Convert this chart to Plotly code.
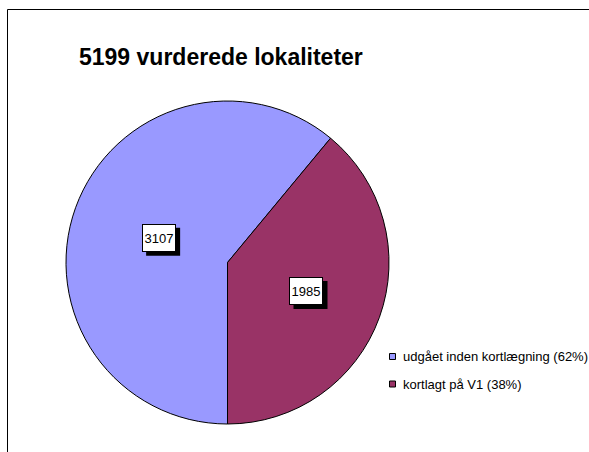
import math
import plotly.graph_objects as go

# ---- data ----
title_text = "5199 vurderede lokaliteter"
categories = ["udgået inden kortlægning (62%)", "kortlagt på V1 (38%)"]
values = [3107, 1985]
colors = ["#9999FF", "#993366"]

W, H = 589, 452
FONT = "Liberation Sans, Arial, sans-serif"

# pie geometry (pixels)
cx, cy, r = 227.5, 262.5, 161.5

fig = go.Figure()
fig.add_trace(go.Pie(
    labels=categories, values=values, sort=False,
    direction="clockwise", rotation=180,
    marker=dict(colors=colors, line=dict(color="black", width=1)),
    textinfo="none", hoverinfo="label+value", showlegend=False,
    domain=dict(x=[(cx - r) / W, (cx + r) / W],
                y=[1 - (cy + r) / H, 1 - (cy - r) / H]),
))

annotations = []
shapes = []

# outer chart border
shapes.append(dict(type="rect", xref="paper", yref="paper",
                   x0=7.5 / W, x1=1.2, y0=-0.2, y1=1 - 9.5 / H,
                   line=dict(color="black", width=1), fillcolor="rgba(0,0,0,0)"))

# title
annotations.append(dict(text="<b>" + title_text + "</b>", xref="paper", yref="paper",
                        x=77 / W, y=1 - 57 / H, xanchor="left", yanchor="middle",
                        showarrow=False, font=dict(family=FONT, size=23, color="black")))

# data labels computed from slice angles
total = sum(values)
label_frac = [0.45, 0.52]
bw, bh = 34, 28  # label box size in px
start = 180.0
for i, v in enumerate(values):
    span = 360.0 * v / total
    mid = math.radians(start + span / 2)
    start += span
    lx = cx + label_frac[i] * r * math.sin(mid)
    ly = cy - label_frac[i] * r * math.cos(mid)
    # drop shadow
    shapes.append(dict(type="rect", xref="paper", yref="paper",
                       x0=(lx - bw / 2 + 4) / W, x1=(lx + bw / 2 + 4) / W,
                       y0=1 - (ly + bh / 2 + 4) / H, y1=1 - (ly - bh / 2 + 4) / H,
                       fillcolor="black", line=dict(width=0), layer="above"))
    annotations.append(dict(text=str(v), xref="paper", yref="paper",
                            x=lx / W, y=1 - ly / H,
                            xanchor="center", yanchor="middle", showarrow=False,
                            width=bw - 2, height=bh - 2, borderpad=0,
                            bgcolor="white", bordercolor="black", borderwidth=1,
                            font=dict(family=FONT, size=13, color="black")))

# legend
leg_y = [356.5, 384]
for i, name in enumerate(categories):
    y = leg_y[i]
    shapes.append(dict(type="rect", xref="paper", yref="paper",
                       x0=389.5 / W, x1=395.5 / W, y0=1 - (y + 3) / H, y1=1 - (y - 3) / H,
                       fillcolor=colors[i], line=dict(color="black", width=1)))
    annotations.append(dict(text=name, xref="paper", yref="paper",
                            x=401 / W, y=1 - y / H, xanchor="left", yanchor="middle",
                            showarrow=False, font=dict(family=FONT, size=13, color="black")))

fig.update_layout(
    width=W, height=H, margin=dict(l=0, r=0, t=0, b=0),
    paper_bgcolor="white", plot_bgcolor="white",
    annotations=annotations, shapes=shapes,
)

fig.write_html("out.html", config={"displayModeBar": False},
               post_script="document.body.style.margin='0';document.body.style.overflow='hidden';")
